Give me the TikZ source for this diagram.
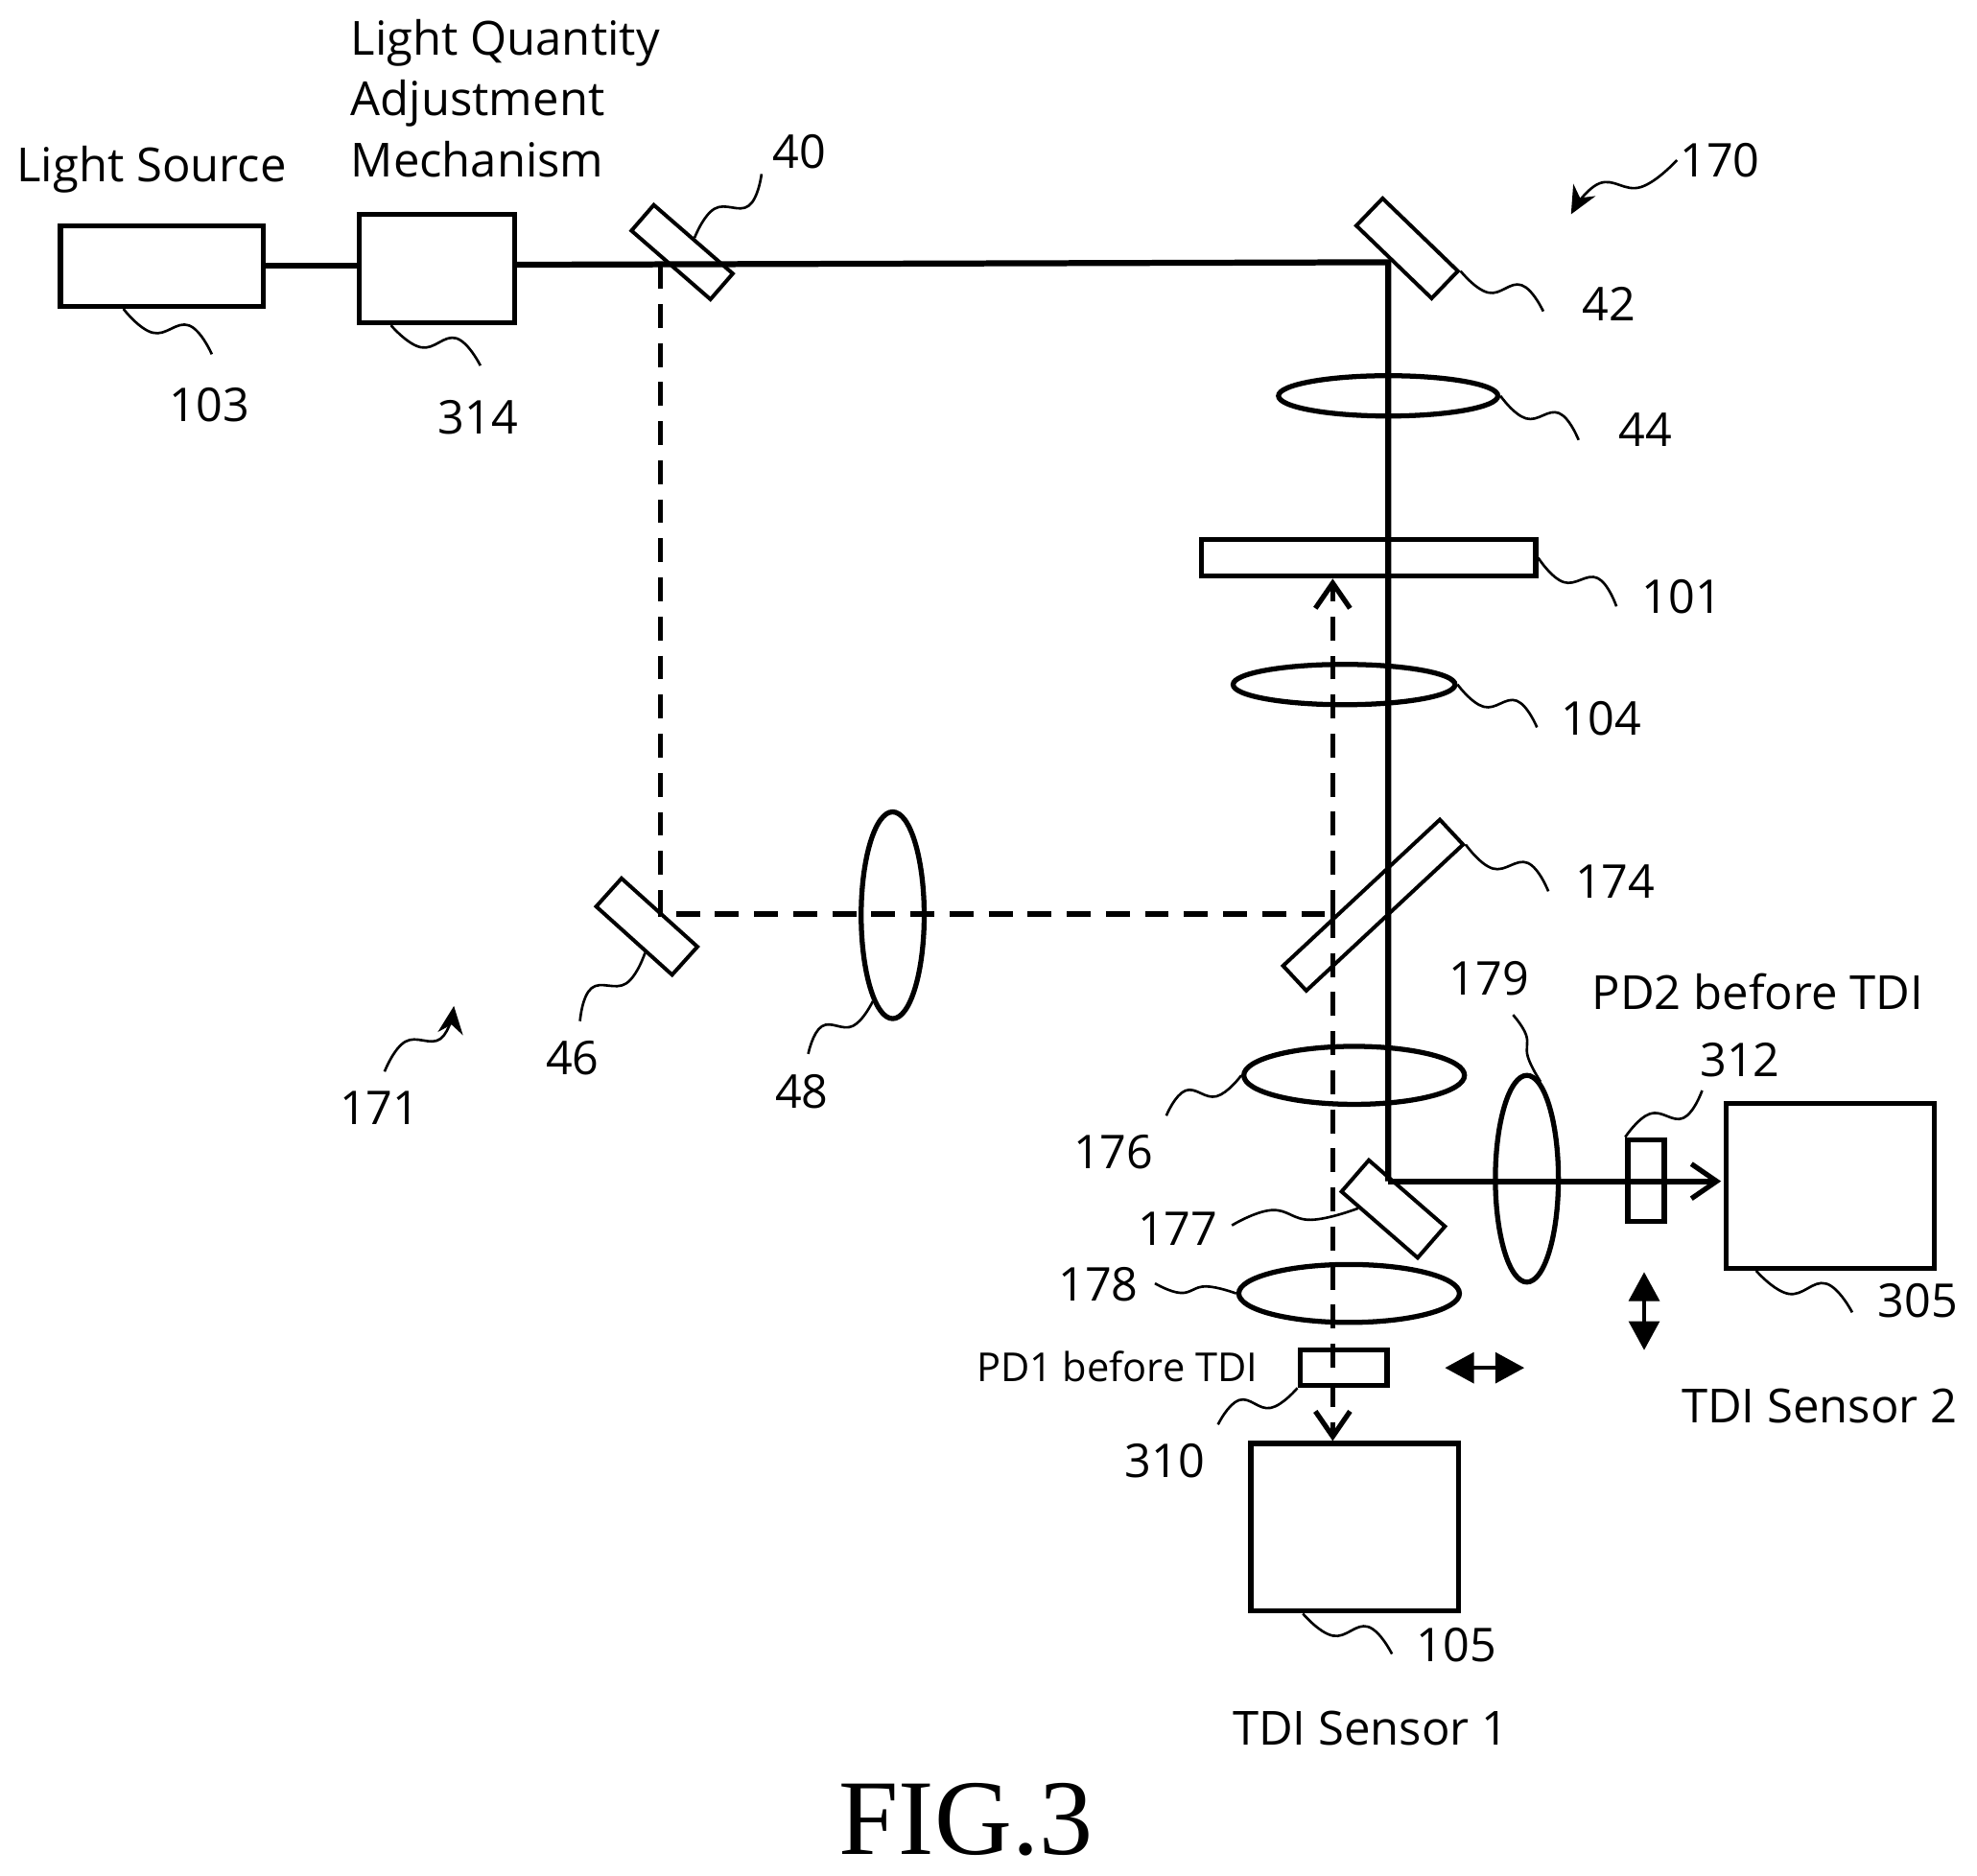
\documentclass[tikz,border=0pt]{standalone}
\usepackage{fontspec}
\setmainfont{Open Sans}
\newfontfamily\figfont{Liberation Serif}
\usetikzlibrary{arrows.meta,calc,shapes.geometric}
\tikzset{
    box/.style={draw,line width=0.8mm,inner sep=0pt},
    mirror/.style={draw,line width=0.6mm,inner sep=0pt},
    lens/.style={draw,ellipse,line width=0.8mm,inner sep=0pt},
    beam/.style={line width=0.95mm},
    dashbeam/.style={line width=0.8mm,dash pattern=on 3.8mm off 2.4mm},
    leader/.style={line width=0.4mm},
    label/.style={font=\fontsize{21.2}{24}\selectfont,inner sep=0pt},
    tag/.style={font=\fontsize{21}{24}\selectfont,inner sep=0pt},
    tipopen/.style={-{Straight Barb[length=4mm,width=5.5mm,line width=0.8mm]}},
    tipboth/.style={{Stealth[length=4.6mm,width=4.8mm,inset=0pt]}-{Stealth[length=4.6mm,width=4.8mm,inset=0pt]}}
}
\newcommand{\wiggle}[4][]{%
    \pgfmathsetmacro\wigA{#4*12}
    \pgfmathsetmacro\wigB{#4*(-13)}
    \coordinate (wigP) at ($(#2)!.38!\wigA:(#3)$);
    \coordinate (wigQ) at ($(#2)!.68!\wigB:(#3)$);
    \draw[leader,#1] plot[smooth,tension=.75] coordinates {(#2) (wigP) (wigQ) (#3)};
}
\begin{document}
\begin{tikzpicture}[x=0.2mm,y=-0.2mm]
    \useasboundingbox (0,0) rectangle (1568,1487.4);
    % boxes
    \node[box,minimum width=32.2mm,minimum height=12.8mm] (src) at (128.5,211) {};
    \node[box,minimum width=24.6mm,minimum height=17.2mm] (adj) at (346.5,213) {};
    \node[box,minimum width=53mm,minimum height=5.8mm] (mask) at (1085.5,442.5) {};
    \node[box,minimum width=13.8mm,minimum height=5.6mm] (pd1) at (1065.5,1085) {};
    \node[box,minimum width=5.8mm,minimum height=13mm] (pd2) at (1305.5,936.5) {};
    \node[box,minimum width=33mm,minimum height=26.6mm] (sens1) at (1074.5,1211.5) {};
    \node[box,minimum width=33mm,minimum height=26.2mm] (sens2) at (1451.5,940.5) {};
    % mirrors
    \node[mirror,rotate=-41,minimum width=16.6mm,minimum height=5.4mm] (m40) at (541,200) {};
    \node[mirror,rotate=-44,minimum width=16.6mm,minimum height=6mm] (m42) at (1116,197) {};
    \node[mirror,rotate=-42,minimum width=16.2mm,minimum height=6mm] (m46) at (513,735) {};
    \node[mirror,rotate=43,minimum width=34mm,minimum height=5.4mm] (m174) at (1089,718) {};
    \node[mirror,rotate=-41,minimum width=16mm,minimum height=6.6mm] (m177) at (1105,959) {};
    % lenses
    \node[lens,minimum width=34.8mm,minimum height=6.4mm] (l44) at (1101,314) {};
    \node[lens,minimum width=35.2mm,minimum height=6.4mm] (l104) at (1066,543) {};
    \node[lens,minimum width=10mm,minimum height=32.8mm] (l48) at (708,726) {};
    \node[lens,minimum width=35mm,minimum height=9.2mm] (l176) at (1074,853) {};
    \node[lens,minimum width=35mm,minimum height=9.2mm] (l178) at (1070,1026) {};
    \node[lens,minimum width=10mm,minimum height=32.8mm] (l179) at (1211,935) {};
    % beam corners
    \coordinate (j40) at (524,210);
    \coordinate (j42) at (1101,208);
    \coordinate (j46) at (524,725);
    \coordinate (j174) at (1057,725);
    \coordinate (j177) at (1101,937);
    \coordinate (tip2) at (1365,937);
    \draw[beam] (src.east) -- (src.east -| adj.west);
    \draw[beam] (adj.east |- j40) -- (j42) -- (j177);
    \draw[beam,tipopen] (j177) -- (tip2);
    \draw[dashbeam] (j40) -- (j46) -- (j174);
    \draw[dashbeam,tipopen] (j174) -- (j174 |- mask.south);
    \draw[dashbeam,tipopen] (j174) -- (j174 |- sens1.north);
    % movement arrows
    \coordinate (updn) at (1304,1009);
    \coordinate (updn2) at (1304,1071);
    \coordinate (lfrt) at (1146,1085);
    \coordinate (lfrt2) at (1209,1085);
    \draw[line width=0.7mm,tipboth] (updn) -- (updn2);
    \draw[line width=0.7mm,tipboth] (lfrt) -- (lfrt2);
    % numbers with their leaders
    \foreach \lab/\from/\bx/\by/\lx/\ly/\s in {
        103/src.228/168/281/166/321/-1,
        314/adj.231/381/290/379/331/-1,
        40/m40.north/604/138/634/120/1,
        42/m42.north east/1224/247/1276/241/-1,
        44/l44.east/1252/349/1305/341/-1,
        101/mask.east/1282/481/1334/473/-1,
        104/l104.east/1219/577/1270/570/-1,
        174/m174.south east/1228/707/1281/699/-1,
        46/m46.-52/460/810/454/839/1,
        48/l48.257/641/836/636/866/1,
        176/l176.west/925/885/883/914/1,
        177/m177.220/977/972/934/975/0.5,
        178/l178.west/916/1018/871/1019/-0.5,
        179/l179.82/1200/805/1181/776/0.4,
        312/pd2.north west/1350/865/1380/841/1,
        305/sens2.229.5/1469/1041/1521/1032/-1,
        105/sens1.239/1104/1312/1155/1305/-1,
        310/pd1.south west/966/1130/924/1159/1}{
        \node[tag] (n\lab) at (\lx,\ly) {\lab};
        \coordinate (e\lab) at (\bx,\by);
        \wiggle{\from}{e\lab}{\s}
    }
    % pointers for the two groups
    \node[tag] (n170) at (1364,127) {170};
    \node[tag] (n171) at (301,879) {171};
    \coordinate (s170) at (1330,127);
    \coordinate (e170) at (1246,170);
    \coordinate (s171) at (305,850);
    \coordinate (e171) at (360,798);
    \wiggle[-{Stealth[length=4.4mm,width=4mm]}]{s170}{e170}{0.8}
    \wiggle[-{Stealth[length=4.4mm,width=4mm]}]{s171}{e171}{1}
    % names
    \node[label,anchor=base west] (tsrc) at (13,144) {Light Source};
    \node[label,anchor=base west] (tadj1) at (278,44) {Light Quantity};
    \node[label,anchor=base west] (tadj2) at (278,92) {Adjustment};
    \node[label,anchor=base west] (tadj3) at (278,140) {Mechanism};
    \node[label] (tpd2) at (1394,787) {PD2 before TDI};
    \node[font=\fontsize{18}{20}\selectfont,inner sep=0pt] (tpd1) at (886,1084) {PD1 before TDI};
    \node[label] (ts1) at (1087,1371) {TDI Sensor 1};
    \node[label] (ts2) at (1443,1115) {TDI Sensor 2};
    \node[font=\fontsize{48.5}{50}\selectfont\figfont,inner sep=0pt] (tfig) at (766,1443) {FIG.3};
\end{tikzpicture}
\end{document}
